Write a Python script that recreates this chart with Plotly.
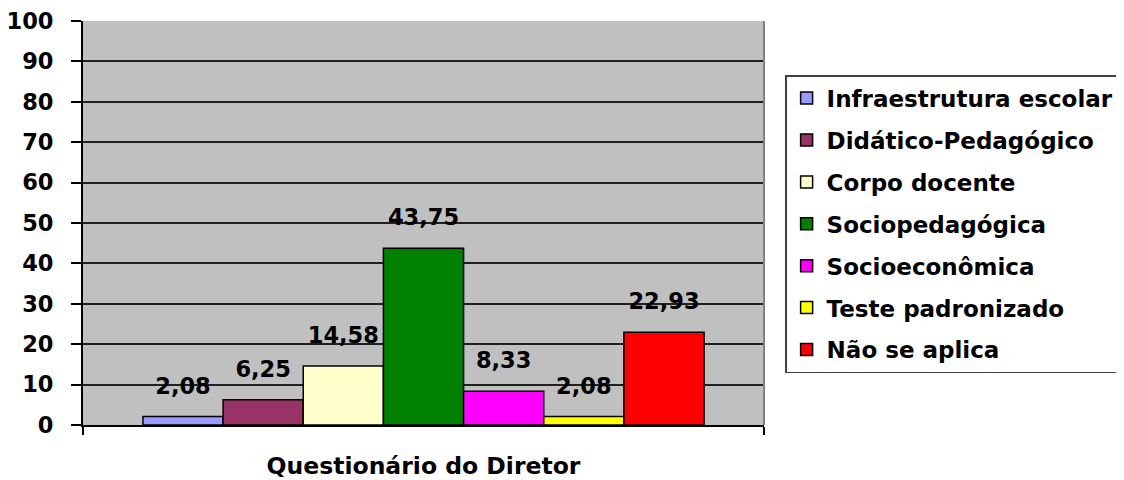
import plotly.graph_objects as go

category = ["Questionário do Diretor"]
series_names = ["Infraestrutura escolar", "Didático-Pedagógico", "Corpo docente",
                "Sociopedagógica", "Socioeconômica", "Teste padronizado", "Não se aplica"]
values = [2.08, 6.25, 14.58, 43.75, 8.33, 2.08, 22.93]
colors = ["#9999FF", "#993366", "#FFFFCC", "#008000", "#FF00FF", "#FFFF00", "#FF0000"]
y_ticks = list(range(0, 101, 10))

FONT = "DejaVu Sans"

fig = go.Figure()
for i, (name, v, c) in enumerate(zip(series_names, values, colors)):
    fig.add_trace(go.Bar(
        x=category, y=[v], name=name, marker=dict(color=c, line=dict(color="black", width=1.5)),
        offsetgroup=str(i), legendgroup=str(i), hoverinfo="skip",
    ))
for i, v in enumerate(values):
    fig.add_trace(go.Scatter(
        x=category, y=[v], mode="markers+text", text=[f"{v:.2f}".replace(".", ",")],
        textposition="top center", marker=dict(size=26, opacity=0),
        textfont=dict(family=FONT, size=22.5, color="black", weight="bold"),
        offsetgroup=str(i), showlegend=False, hoverinfo="skip", cliponaxis=False,
    ))

fig.update_layout(
    width=1116, height=472,
    margin=dict(l=75, r=360, t=13, b=55, autoexpand=False),
    paper_bgcolor="white", plot_bgcolor="#C0C0C0",
    barmode="group", scattermode="group", bargap=0.176, bargroupgap=0,
    font=dict(family=FONT, color="black"),
    showlegend=True,
    legend=dict(
        x=1.031, y=0.866, xanchor="left", yanchor="top",
        bgcolor="white", bordercolor="#404040", borderwidth=1.5,
        font=dict(family=FONT, size=23, color="black", weight="bold"),
        traceorder="grouped", tracegroupgap=9,
    ),
    xaxis=dict(
        showticklabels=False, ticks="outside", tickson="boundaries", ticklen=8,
        tickcolor="black", tickwidth=1.5, showline=True, linecolor="black", linewidth=2,
        title=dict(text="Questionário do Diretor", standoff=32,
                   font=dict(family=FONT, size=23.5, color="black", weight="bold")),
        showgrid=False, automargin=False,
    ),
    yaxis=dict(
        range=[0, 100.001], tickvals=y_ticks, ticks="outside", ticklen=10, tickcolor="black",
        tickwidth=1.5, showline=True, linecolor="black", linewidth=2,
        gridcolor="#202020", gridwidth=1.5, zeroline=False,
        tickfont=dict(family=FONT, size=22.5, color="black", weight="bold"),
        ticklabelstandoff=13, automargin=False, ticklabeloverflow="allow",
    ),
    shapes=[dict(type="line", xref="paper", yref="paper", x0=1, x1=1, y0=0, y1=1,
                 line=dict(color="#808080", width=2))],
)

fig.write_html("out.html")
